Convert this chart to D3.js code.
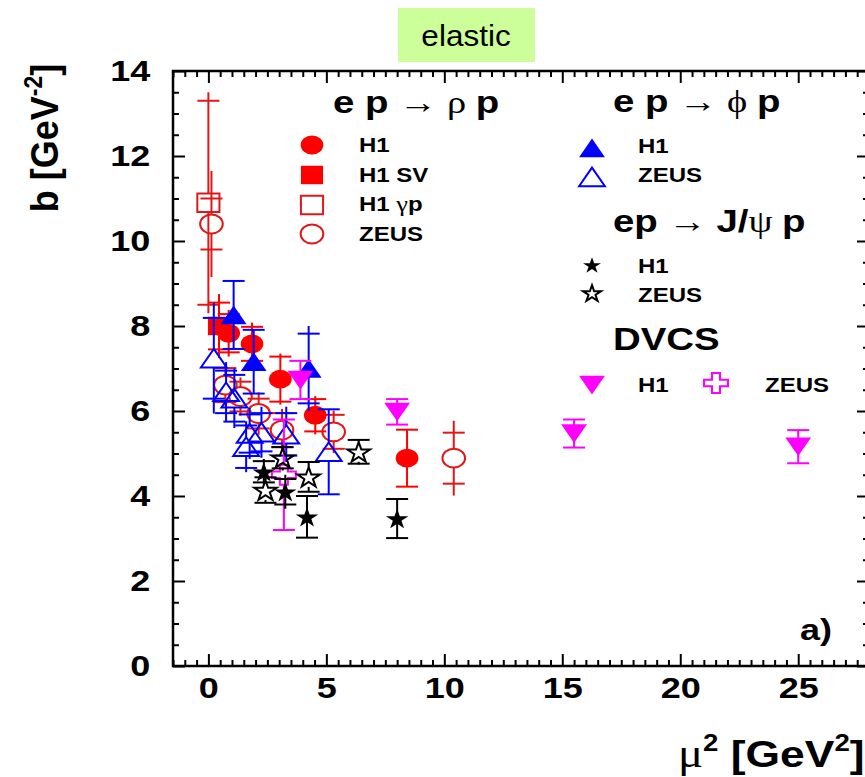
<!DOCTYPE html>
<html>
<head>
<meta charset="utf-8">
<script src="https://cdn.jsdelivr.net/npm/d3@7"></script>
<style>
  body { margin: 0; background: #fff; }
  svg { display: block; }
  text { font-family: "Liberation Sans", Arial, Helvetica, sans-serif; white-space: pre; }
</style>
</head>
<body>
<div id="chart"></div>
<script>
// each point: [mu2, b, stat error, total error]
const rhoH1gp = [[0.0, 10.9, 2.4, 2.6]];
const rhoZEUS = [[0.13, 10.4, 0.6, 1.25], [0.72, 6.61, 0.4, 0.5], [1.36, 6.34, 0.35, 0.45],
                 [2.13, 5.94, 0.35, 0.5], [3.12, 5.55, 0.4, 0.5], [5.31, 5.51, 0.4, 0.5],
                 [10.4, 4.89, 0.6, 0.88]];
const rhoH1SV = [[0.45, 8.0, 0.55, 0.75]];
const rhoH1 = [[0.86, 7.83, 0.45, 0.55], [1.85, 7.58, 0.4, 0.5], [3.05, 6.75, 0.53, 0.6],
               [4.53, 5.9, 0.38, 0.45], [8.42, 4.89, 0.67, 0.67]];
const phiZEUS = [[0.23, 7.24, 0.95, 1.3], [0.75, 6.45, 0.5, 0.7], [1.1, 6.3, 0.55, 0.7],
                 [1.6, 5.16, 0.5, 0.6], [1.75, 5.47, 0.45, 0.6], [2.25, 5.5, 0.45, 0.6],
                 [3.3, 5.45, 0.5, 0.65], [5.1, 5.04, 1.0, 1.0]];
const phiH1 = [[1.07, 8.26, 0.8, 0.8], [1.92, 7.16, 0.75, 0.75], [4.25, 7.0, 0.82, 1.0]];
const dvcsH1 = [[3.9, 6.73, 0.45, 0.45], [8.0, 5.98, 0.3, 0.3], [15.5, 5.47, 0.33, 0.33],
                [25.0, 5.16, 0.39, 0.39]];
const dvcsZEUS = [[3.2, 4.5, 1.3, 1.3]];
const jpsiZEUS = [[2.42, 4.14, 0.3, 0.3], [3.15, 4.9, 0.25, 0.3], [4.25, 4.45, 0.35, 0.35],
                  [6.37, 5.04, 0.28, 0.3]];
const jpsiH1 = [[2.35, 4.57, 0.25, 0.3], [3.26, 4.1, 0.3, 0.4], [4.18, 3.51, 0.49, 0.49],
                [8.0, 3.47, 0.46, 0.46]];

const xTicks = [0, 5, 10, 15, 20, 25];
const yTicks = [0, 2, 4, 6, 8, 10, 12, 14];

const RED = "#ff0000", RED_OPEN = "#e01818", BLUE = "#0000ff", MAG = "#ff00ff", BLK = "#000000";

// draw order: later series on top
const series = [
  { data: rhoH1gp, shape: "square", color: RED_OPEN, filled: false },
  { data: rhoZEUS, shape: "circle", color: RED_OPEN, filled: false },
  { data: rhoH1SV, shape: "square", color: RED, filled: true },
  { data: rhoH1, shape: "circle", color: RED, filled: true },
  { data: phiZEUS, shape: "triangle", color: BLUE, filled: false },
  { data: phiH1, shape: "triangle", color: BLUE, filled: true },
  { data: dvcsH1, shape: "triangleDown", color: MAG, filled: true },
  { data: dvcsZEUS, shape: "cross", color: MAG, filled: false },
  { data: jpsiZEUS, shape: "star", color: BLK, filled: false },
  { data: jpsiH1, shape: "star", color: BLK, filled: true }
];

const W = 865, H = 777;
const SX = 1.2;   // horizontal stretch of the lettering
const SERIF = "Liberation Serif, DejaVu Serif, serif";

const svg = d3.select("#chart").append("svg")
  .attr("width", W)
  .attr("height", H);

const x = d3.scaleLinear().domain([-1.5, 28]).range([173, 869]);
const y = d3.scaleLinear().domain([0, 14]).range([666, 71]);

// ---- title box
svg.append("rect")
  .attr("x", 398).attr("y", 8).attr("width", 137).attr("height", 54)
  .attr("fill", "#ccff99");
svg.append("text")
  .attr("transform", "translate(466,46) scale(1.05,1)")
  .attr("text-anchor", "middle")
  .attr("font-size", 30)
  .text("elastic");

// ---- axes
function styleAxis(g) {
  g.select(".domain").remove();
  g.attr("font-family", null).attr("font-size", null);
  g.selectAll(".tick line").attr("stroke-width", 2);
}

const minorX = d3.range(-1.5, 28.01, 0.5).filter(v => v % 5 !== 0);
const minorY = d3.range(0, 14.01, 0.5).filter(v => v % 2 !== 0);

const gxMinor = svg.append("g").attr("transform", `translate(0,${y(0)})`)
  .call(d3.axisBottom(x).tickValues(minorX).tickSize(-6).tickFormat(""));
const gxTopMinor = svg.append("g").attr("transform", `translate(0,${y(14)})`)
  .call(d3.axisTop(x).tickValues(minorX).tickSize(-6).tickFormat(""));
const gyMinor = svg.append("g").attr("transform", `translate(${x(-1.5)},0)`)
  .call(d3.axisLeft(y).tickValues(minorY).tickSize(-6).tickFormat(""));
const gyRightMinor = svg.append("g").attr("transform", `translate(${x(28)},0)`)
  .call(d3.axisRight(y).tickValues(minorY).tickSize(-6).tickFormat(""));
[gxMinor, gxTopMinor, gyMinor, gyRightMinor].forEach(styleAxis);

const gxTop = svg.append("g").attr("transform", `translate(0,${y(14)})`)
  .call(d3.axisTop(x).tickValues(xTicks).tickSize(-12).tickFormat(""));
const gyRight = svg.append("g").attr("transform", `translate(${x(28)},0)`)
  .call(d3.axisRight(y).tickValues(yTicks).tickSize(-12).tickFormat(""));
[gxTop, gyRight].forEach(styleAxis);

const gx = svg.append("g").attr("transform", `translate(0,${y(0)})`)
  .call(d3.axisBottom(x).tickValues(xTicks).tickSize(-12).tickSizeOuter(0)
    .tickPadding(11).tickFormat(d3.format("d")));
const gy = svg.append("g").attr("transform", `translate(${x(-1.5)},0)`)
  .call(d3.axisLeft(y).tickValues(yTicks).tickSize(-12).tickSizeOuter(0)
    .tickPadding(19).tickFormat(d3.format("d")));
[gx, gy].forEach(g => {
  styleAxis(g);
  g.selectAll(".tick text")
    .attr("font-size", 30)
    .attr("font-weight", "bold")
    .attr("fill", "#000")
    .attr("transform", `scale(${SX},1)`);
});

svg.append("rect")
  .attr("x", x(-1.5)).attr("y", y(14))
  .attr("width", x(28) - x(-1.5)).attr("height", y(0) - y(14))
  .attr("fill", "none").attr("stroke", "#000").attr("stroke-width", 2.5);

// ---- axis titles
const yTitle = svg.append("text")
  .attr("transform", "translate(58,138) rotate(-90) scale(1,1.1)")
  .attr("text-anchor", "middle")
  .attr("font-size", 36)
  .attr("font-weight", "bold");
yTitle.append("tspan").text("b [GeV");
yTitle.append("tspan").attr("font-size", 23).attr("dy", -15).text("-2");
yTitle.append("tspan").attr("dy", 15).text("]");

const xTitle = svg.append("text")
  .attr("transform", `translate(678,767) scale(${SX},1)`)
  .attr("font-size", 37)
  .attr("font-weight", "bold");
xTitle.append("tspan").attr("font-family", SERIF)
  .attr("font-weight", "normal").attr("font-size", 39).text("μ");
xTitle.append("tspan").attr("font-size", 23).attr("dy", -16).text("2");
xTitle.append("tspan").attr("dy", 16).text(" [GeV");
xTitle.append("tspan").attr("font-size", 23).attr("dy", -16).text("2");
xTitle.append("tspan").attr("dy", 16).text("]");

svg.append("text")
  .attr("transform", `translate(800,640) scale(${SX},1)`)
  .attr("font-size", 30).attr("font-weight", "bold")
  .text("a)");

// ---- markers
const symbolSizes = { circle: 280, square: 340, triangle: 200, triangleDown: 200, star: 130, cross: 222 };
const symbolTypes = {
  circle: d3.symbolCircle, square: d3.symbolSquare, triangle: d3.symbolTriangle,
  triangleDown: d3.symbolTriangle, star: d3.symbolStar, cross: d3.symbolCross
};
const halfHeight = { circle: 9.5, square: 9.2, triangle: 9.3, triangleDown: 9.3, star: 10, cross: 10 };

function drawMarker(g, shape, color, filled, k) {
  const scale = k || 1;
  let tf = `scale(${1.2 * scale},${scale})`;
  if (shape === "triangle") tf = `translate(0,${3 * scale}) ` + tf;
  if (shape === "triangleDown") tf = `translate(0,${-3 * scale}) ` + tf + " rotate(180)";
  if (shape === "star") tf = `translate(0,${1 * scale}) scale(${1.1 * scale},${scale})`;
  g.append("path")
    .attr("d", d3.symbol(symbolTypes[shape], symbolSizes[shape])())
    .attr("transform", tf)
    .attr("fill", filled ? color : "none")
    .attr("stroke", filled ? "none" : color)
    .attr("stroke-width", 2)
    .attr("vector-effect", "non-scaling-stroke");
}

const plot = svg.append("g");

series.forEach(s => {
  const pts = plot.append("g").selectAll("g")
    .data(s.data)
    .join("g")
    .attr("transform", d => `translate(${x(d[0])},${y(d[1])})`);

  const gap = s.filled ? 0 : halfHeight[s.shape];

  // error bar: line to total error, caps at statistical error
  pts.append("line")
    .attr("x1", 0).attr("x2", 0)
    .attr("y1", d => y(d[1] + d[3]) - y(d[1]))
    .attr("y2", -gap)
    .attr("stroke", s.color).attr("stroke-width", 2);
  pts.append("line")
    .attr("x1", 0).attr("x2", 0)
    .attr("y1", gap)
    .attr("y2", d => y(d[1] - d[3]) - y(d[1]))
    .attr("stroke", s.color).attr("stroke-width", 2);
  [1, -1].forEach(sign => {
    pts.append("line")
      .attr("x1", -11).attr("x2", 11)
      .attr("y1", d => y(d[1] + sign * d[2]) - y(d[1]))
      .attr("y2", d => y(d[1] + sign * d[2]) - y(d[1]))
      .attr("stroke", s.color).attr("stroke-width", 2);
  });

  pts.each(function () {
    drawMarker(d3.select(this), s.shape, s.color, s.filled);
  });
});

// ---- legend
function header(xp, yp, parts, size) {
  const t = svg.append("text")
    .attr("transform", `translate(${xp},${yp}) scale(${SX},1)`)
    .attr("font-size", size || 32);
  parts.forEach(([str, kind]) => {
    const sp = t.append("tspan").text(str);
    if (kind === "b") sp.attr("font-weight", "bold");
    else sp.attr("font-family", SERIF);
  });
}

function entry(mx, my, shape, color, filled, label, lx, ly, k) {
  const g = svg.append("g").attr("transform", `translate(${mx},${my})`);
  drawMarker(g, shape, color, filled, k);
  if (label) {
    svg.append("text")
      .attr("transform", `translate(${lx},${ly}) scale(${SX},1)`)
      .attr("font-size", 20).attr("font-weight", "bold")
      .text(label);
  }
}

header(333, 113, [["e p ", "b"], ["→", "s"], [" ρ ", "s"], ["p", "b"]]);
entry(312, 145, "circle", RED, true, "H1", 359, 152);
entry(312, 175, "square", RED, true, "H1 SV", 359, 182);
entry(312, 205, "square", RED_OPEN, false, null);
svg.append("text")
  .attr("transform", `translate(359,211) scale(${SX},1)`)
  .attr("font-size", 20).attr("font-weight", "bold")
  .call(t => {
    t.append("tspan").text("H1 ");
    t.append("tspan").attr("font-family", SERIF)
      .attr("font-weight", "normal").attr("font-size", 22).text("γ");
    t.append("tspan").text("p");
  });
entry(312, 234, "circle", RED_OPEN, false, "ZEUS", 359, 241);

header(613, 112, [["e p ", "b"], ["→", "s"], [" ϕ ", "s"], ["p", "b"]]);
entry(592, 148, "triangle", BLUE, true, "H1", 638, 153);
entry(592, 177, "triangle", BLUE, false, "ZEUS", 638, 182);

header(613, 232, [["ep ", "b"], ["→", "s"], [" ", "s"], ["J/", "b"], ["ψ ", "s"], ["p", "b"]]);
entry(592, 265, "star", BLK, true, "H1", 638, 273, 0.8);
entry(592, 293, "star", BLK, false, "ZEUS", 638, 302, 0.8);

header(613, 350, [["DVCS", "b"]]);
entry(592, 385, "triangleDown", MAG, true, "H1", 638, 392);
entry(716, 383, "cross", MAG, false, "ZEUS", 765, 392);
</script>
</body>
</html>
